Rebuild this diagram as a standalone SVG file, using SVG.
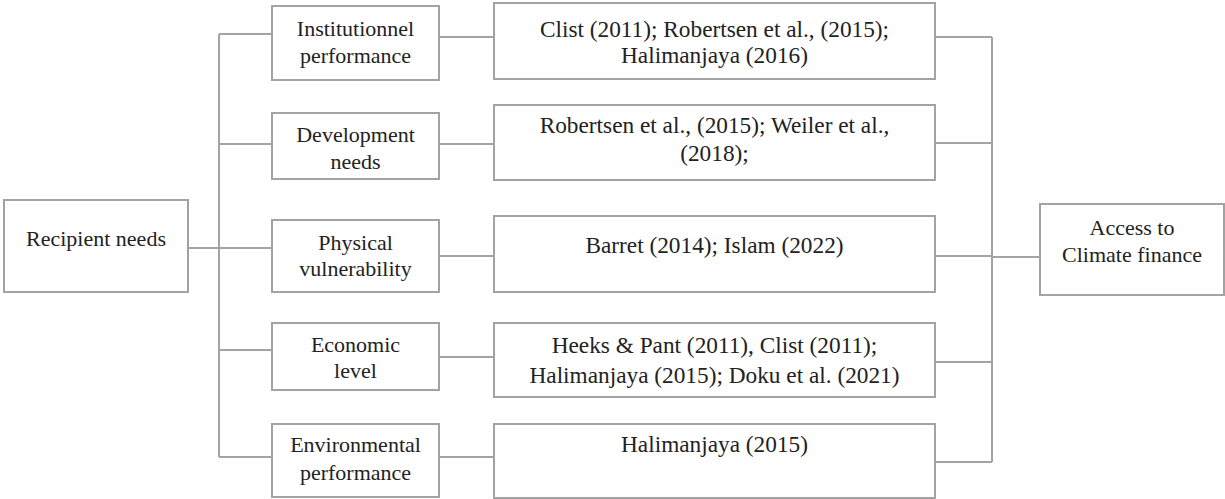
<svg xmlns="http://www.w3.org/2000/svg" width="1225" height="499" viewBox="0 0 1225 499">
<style>
.box{fill:#fff;stroke:#a3a3a3;stroke-width:2}
.ln{fill:none;stroke:#a3a3a3;stroke-width:2}
text{font-family:"Liberation Serif","Times New Roman",Times,serif;font-size:22px;fill:#222;text-anchor:middle}
.ref text{font-size:23.3px}
</style>
<rect width="1225" height="499" fill="#fff"/>
<g id="connectors">
<path class="ln" d="M188,248 H272 M219,34 V457 M219,34 H272 M219,144 H272 M219,350 H272 M219,457 H272"/>
<path class="ln" d="M439,37 H494 M439,144 H494 M439,256 H494 M439,357 H494 M439,457 H494"/>
<path class="ln" d="M935,37 H992 M935,143 H992 M935,256 H992 M935,362 H992 M935,462 H992 M992,37 V462 M992,257 H1040"/>
</g>
<g id="recipient"><rect class="box" x="4" y="200" width="184" height="92"/><text x="96" y="246">Recipient needs</text></g>
<g id="inst"><rect class="box" x="272" y="6" width="167" height="74"/><text x="355.5" y="36">Institutionnel</text><text x="355.5" y="63">performance</text></g>
<g id="dev"><rect class="box" x="272" y="113" width="167" height="66"/><text x="355.5" y="142">Development</text><text x="355.5" y="169">needs</text></g>
<g id="phys"><rect class="box" x="272" y="220" width="167" height="72"/><text x="355.5" y="250">Physical</text><text x="355.5" y="276">vulnerability</text></g>
<g id="econ"><rect class="box" x="272" y="323" width="167" height="67"/><text x="355.5" y="352">Economic</text><text x="355.5" y="378">level</text></g>
<g id="env"><rect class="box" x="272" y="424" width="167" height="73"/><text x="355.5" y="452">Environmental</text><text x="355.5" y="480">performance</text></g>
<g id="ref1" class="ref"><rect class="box" x="494" y="3" width="441" height="76"/><text x="714.5" y="37">Clist (2011); Robertsen et al., (2015);</text><text x="714.5" y="63">Halimanjaya (2016)</text></g>
<g id="ref2" class="ref"><rect class="box" x="494" y="105" width="441" height="75"/><text x="714.5" y="133">Robertsen et al., (2015); Weiler et al.,</text><text x="714.5" y="161">(2018);</text></g>
<g id="ref3" class="ref"><rect class="box" x="494" y="216" width="441" height="76"/><text x="714.5" y="253">Barret (2014); Islam (2022)</text></g>
<g id="ref4" class="ref"><rect class="box" x="494" y="323" width="441" height="74"/><text x="714.5" y="353">Heeks &amp; Pant (2011), Clist (2011);</text><text x="714.5" y="383">Halimanjaya (2015); Doku et al. (2021)</text></g>
<g id="ref5" class="ref"><rect class="box" x="494" y="424" width="441" height="74"/><text x="714.5" y="452">Halimanjaya (2015)</text></g>
<g id="access"><rect class="box" x="1040" y="204" width="184" height="91"/><text x="1132" y="235">Access to</text><text x="1132" y="262">Climate finance</text></g>
</svg>
